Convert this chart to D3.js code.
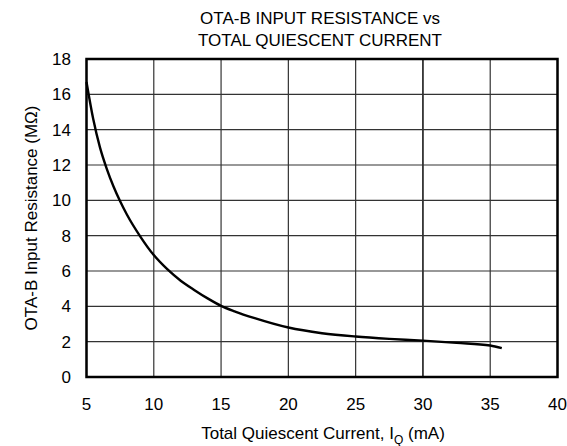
<!DOCTYPE html>
<html>
<head>
<meta charset="utf-8">
<script src="https://cdn.jsdelivr.net/npm/d3@7"></script>
<style>
  html, body { margin: 0; padding: 0; background: #fff; }
  text { font-family: "Liberation Sans", Arial, Helvetica, sans-serif; fill: #000; }
</style>
</head>
<body>
<svg id="chart" width="567" height="446"></svg>
<script>
// Data
const currentMA = [5.0, 5.5, 6.0, 6.5, 7.0, 7.5, 8.0, 9.0, 10.0, 11.0, 12.0, 13.0, 14.0, 15.0, 16.0, 17.5, 20.0, 22.5, 25.0, 27.5, 30.0, 32.5, 35.0, 35.86];
const resistanceMOhm = [16.7, 14.6, 13.0, 11.8, 10.8, 9.95, 9.2, 7.95, 6.9, 6.1, 5.45, 4.93, 4.45, 4.03, 3.72, 3.33, 2.8, 2.48, 2.29, 2.16, 2.06, 1.93, 1.78, 1.63];
const xTicks = [5, 10, 15, 20, 25, 30, 35, 40];
const yTicks = [0, 2, 4, 6, 8, 10, 12, 14, 16, 18];
const titleLines = ["OTA-B INPUT RESISTANCE vs", "TOTAL QUIESCENT CURRENT"];

const svg = d3.select("#chart");
const L = 86.5, R = 557.5, T = 59, B = 377;
const x = d3.scaleLinear().domain([5, 40]).range([L, R]);
const y = d3.scaleLinear().domain([0, 18]).range([B, T]);

// grid
const g = svg.append("g");
g.selectAll("line.v").data(xTicks).enter().append("line")
  .attr("x1", d => x(d)).attr("x2", d => x(d)).attr("y1", T).attr("y2", B)
  .attr("stroke", "#333").attr("stroke-width", d => d === 30 ? 1.8 : 1.2);
g.selectAll("line.h").data(yTicks).enter().append("line")
  .attr("y1", d => y(d)).attr("y2", d => y(d)).attr("x1", L).attr("x2", R)
  .attr("stroke", "#333").attr("stroke-width", 1.2);

// border
svg.append("rect").attr("x", L).attr("y", T).attr("width", R - L).attr("height", B - T)
  .attr("fill", "none").attr("stroke", "#000").attr("stroke-width", 2.5);

// curve
const pts = currentMA.map((c, i) => [c, resistanceMOhm[i]]);
svg.append("path").datum(pts)
  .attr("fill", "none").attr("stroke", "#000").attr("stroke-width", 2.4)
  .attr("d", d3.line().x(d => x(d[0])).y(d => y(d[1])).curve(d3.curveMonotoneX));

// tick labels
svg.selectAll("text.yt").data(yTicks).enter().append("text")
  .attr("x", 71).attr("y", d => y(d)).attr("dy", "0.36em")
  .attr("text-anchor", "end").attr("font-size", 17).text(d => d);
svg.selectAll("text.xt").data(xTicks).enter().append("text")
  .attr("x", d => x(d)).attr("y", 409.5)
  .attr("text-anchor", "middle").attr("font-size", 17).text(d => d);

// title
svg.selectAll("text.title").data(titleLines).enter().append("text")
  .attr("x", 320).attr("y", (d, i) => 24 + i * 21.5)
  .attr("text-anchor", "middle").attr("font-size", 17).text(d => d);

// x label
const xl = svg.append("text").attr("x", 323).attr("y", 439)
  .attr("text-anchor", "middle").attr("font-size", 17);
xl.append("tspan").text("Total Quiescent Current, I");
xl.append("tspan").attr("font-size", 12).attr("dy", 5).text("Q");
xl.append("tspan").attr("dy", -5).text(" (mA)");

// y label
svg.append("text").attr("transform", "translate(36.5," + ((T + B) / 2) + ") rotate(-90)")
  .attr("text-anchor", "middle").attr("font-size", 17).text("OTA-B Input Resistance (MΩ)");
</script>
</body>
</html>
